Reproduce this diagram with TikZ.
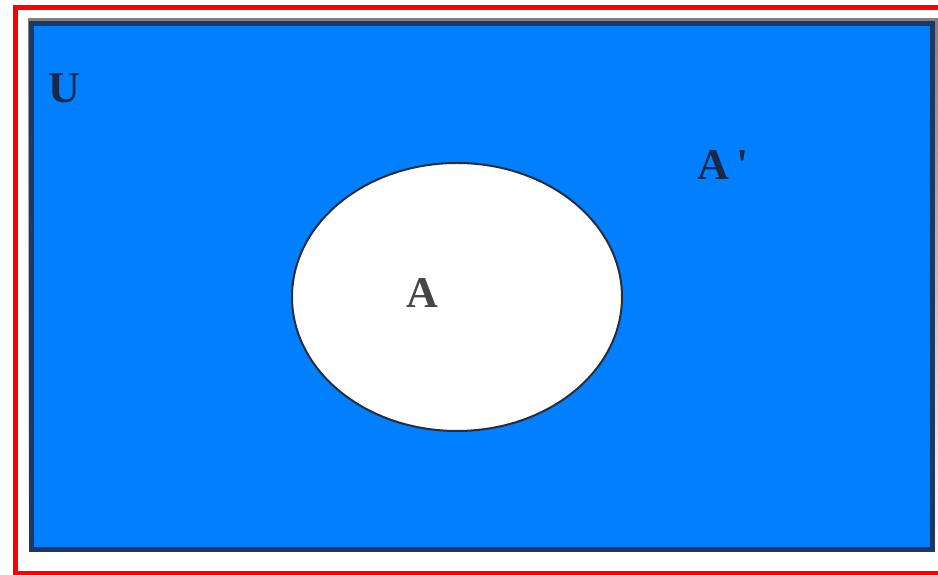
\documentclass[tikz,border=0pt]{standalone}
\usepackage{fontspec}
\setmainfont{Liberation Serif}
\usepackage{xcolor}
\definecolor{frameRed}{RGB}{255,0,0}
\definecolor{shade}{RGB}{165,155,145}
\definecolor{univBlue}{RGB}{0,128,255}
\definecolor{univEdge}{RGB}{30,55,100}
\definecolor{setEdge}{RGB}{40,45,60}
\definecolor{labelDark}{RGB}{25,40,70}
\definecolor{labelGrey}{RGB}{70,70,70}

\tikzset{
  setlabel/.style={font=\fontsize{44}{48}\selectfont\bfseries, inner sep=0pt}
}

\begin{document}
\begin{tikzpicture}[x=1pt,y=1pt]
  \useasboundingbox (0,0) rectangle (938,575);
  \fill[white] (0,0) rectangle (938,575);

  % outer red frame
  \draw[frameRed,line width=5pt] (15.5,1.5) rectangle (941,567.5);

  % universe
  \fill[shade] (28,19) rectangle (938,556);
  \fill[univBlue] (31.5,25.5) rectangle (932.5,551.5);
  \draw[univEdge,line width=5pt] (31.5,25.5) rectangle (932.5,551.5);

  % set A
  \fill[white] (457,278) ellipse (165 and 134);
  \draw[setEdge,line width=2pt] (457,278) ellipse (165 and 134);

  % labels
  \node[setlabel,text=labelDark] (univ) at (64,487) {U};
  \node[setlabel,text=labelDark] (compl) at (723,410) {A\,\textquotesingle};
  \node[setlabel,text=labelGrey] (setA) at (422,282) {A};
\end{tikzpicture}
\end{document}
